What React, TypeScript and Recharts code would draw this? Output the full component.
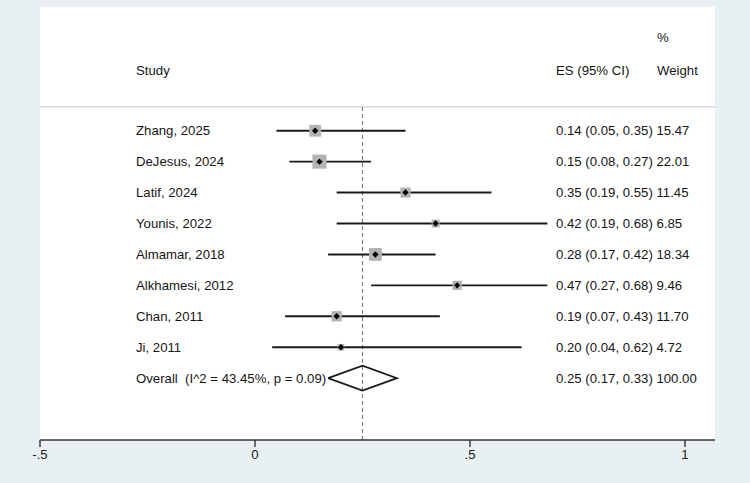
import React from "react";
import {
  ScatterChart,
  Scatter,
  XAxis,
  YAxis,
  ErrorBar,
  ReferenceLine,
  ReferenceArea,
} from "recharts";

// ---- data ----
const studies = [
  "Zhang, 2025",
  "DeJesus, 2024",
  "Latif, 2024",
  "Younis, 2022",
  "Almamar, 2018",
  "Alkhamesi, 2012",
  "Chan, 2011",
  "Ji, 2011",
];
const esValues = [0.14, 0.15, 0.35, 0.42, 0.28, 0.47, 0.19, 0.2];
const ciLower = [0.05, 0.08, 0.19, 0.19, 0.17, 0.27, 0.07, 0.04];
const ciUpper = [0.35, 0.27, 0.55, 0.68, 0.42, 0.68, 0.43, 0.62];
const weights = [15.47, 22.01, 11.45, 6.85, 18.34, 9.46, 11.7, 4.72];

const overallEs = 0.25;
const overallLower = 0.17;
const overallUpper = 0.33;
const overallWeight = 100.0;
const overallLabel = "Overall  (I^2 = 43.45%, p = 0.09)";

const xTicks = [-0.5, 0, 0.5, 1];
const xTickLabels = ["-.5", "0", ".5", "1"];

// ---- layout constants ----
const W = 750;
const H = 483;
const X_MIN = -0.5;
const X_MAX = 1.0698;
const Y_MAX = 14;
const FIRST_ROW = 4;
const HEADER_ROW = 2.04;
const PCT_ROW = 1.0;
const SEP_ROW = 3.23;
const LABEL_X = 136;
const ES_X = 556;
const WEIGHT_X = 657;
const FONT = "'Liberation Sans', Arial, Helvetica, sans-serif";
const TEXT_COLOR = "#151515";
const BG = "#e8f0f2";

const fmt = (v: number) => v.toFixed(2);

const studyData = studies.map((s, i) => ({
  x: esValues[i],
  y: FIRST_ROW + i,
  err: [esValues[i] - ciLower[i], ciUpper[i] - esValues[i]],
  w: weights[i],
  label: s,
  text: `${fmt(esValues[i])} (${fmt(ciLower[i])}, ${fmt(ciUpper[i])}) ${fmt(weights[i])}`,
}));

const overallRow = FIRST_ROW + studies.length;
const DIAMOND_HALF = 0.4;
const diamondData = [
  { x: overallLower, y: overallRow },
  { x: overallEs, y: overallRow - DIAMOND_HALF },
  { x: overallUpper, y: overallRow },
  { x: overallEs, y: overallRow + DIAMOND_HALF },
  { x: overallLower, y: overallRow },
];
const overallData = [
  {
    x: overallEs,
    y: overallRow,
    label: overallLabel,
    text: `${fmt(overallEs)} (${fmt(overallLower)}, ${fmt(overallUpper)}) ${fmt(overallWeight)}`,
  },
];
const headerData = [{ x: 0, y: HEADER_ROW }];
const pctData = [{ x: 0, y: PCT_ROW }];

const textProps = {
  fontFamily: FONT,
  fontSize: 13.2,
  fill: TEXT_COLOR,
  dominantBaseline: "central" as const,
};

const StudyShape = (props: any) => {
  const { cx, cy, payload } = props;
  const side = 3 * Math.sqrt(payload.w);
  const d = 3.2;
  return (
    <g>
      <rect x={cx - side / 2} y={cy - side / 2} width={side} height={side} fill="#b3b3b3" />
      <polygon
        points={`${cx - d},${cy} ${cx},${cy - d} ${cx + d},${cy} ${cx},${cy + d}`}
        fill="#000"
      />
      <text x={LABEL_X} y={cy} {...textProps}>
        {payload.label}
      </text>
      <text x={ES_X} y={cy} {...textProps}>
        {payload.text}
      </text>
    </g>
  );
};

const OverallText = (props: any) => {
  const { cy, payload } = props;
  return (
    <g>
      <text x={LABEL_X} y={cy} {...textProps} style={{ whiteSpace: "pre" }}>
        {payload.label}
      </text>
      <text x={ES_X} y={cy} {...textProps}>
        {payload.text}
      </text>
    </g>
  );
};

const HeaderShape = (props: any) => {
  const { cy } = props;
  return (
    <g>
      <text x={LABEL_X} y={cy} {...textProps}>Study</text>
      <text x={ES_X} y={cy} {...textProps}>ES (95% CI)</text>
      <text x={WEIGHT_X} y={cy} {...textProps}>Weight</text>
    </g>
  );
};

const PctShape = (props: any) => {
  const { cy } = props;
  return (
    <text x={WEIGHT_X} y={cy} {...textProps}>%</text>
  );
};

const Empty = () => <g />;

export default function App() {
  return (
    <div style={{ position: "absolute", left: 0, top: 0, width: W, height: H, background: BG }}>
      <ScatterChart
        width={W}
        height={H}
        margin={{ top: 7, right: 35, bottom: 13, left: 40 }}
      >
        <XAxis
          type="number"
          dataKey="x"
          domain={[X_MIN, X_MAX]}
          allowDataOverflow
          ticks={xTicks}
          tickFormatter={(v: number) => xTickLabels[xTicks.indexOf(v)] ?? String(v)}
          tickSize={7}
          tickMargin={3}
          height={30}
          stroke="#333"
          strokeWidth={1.4}
          tick={{ fill: "#222", fontSize: 13.2, fontFamily: FONT }}
        />
        <YAxis type="number" dataKey="y" domain={[0, Y_MAX]} reversed hide allowDataOverflow />
        <ReferenceArea
          x1={X_MIN}
          x2={X_MAX}
          y1={0}
          y2={Y_MAX}
          fill="#ffffff"
          fillOpacity={1}
          stroke="none"
        />
        <ReferenceLine y={SEP_ROW} stroke="#cfcfcf" strokeWidth={1.4} />
        <ReferenceLine
          segment={[
            { x: overallEs, y: SEP_ROW },
            { x: overallEs, y: Y_MAX },
          ]}
          stroke="#777"
          strokeDasharray="4 3"
          strokeWidth={1.1}
        />
        <Scatter data={headerData} shape={HeaderShape} isAnimationActive={false} />
        <Scatter data={pctData} shape={PctShape} isAnimationActive={false} />
        <Scatter data={studyData} shape={StudyShape} isAnimationActive={false}>
          <ErrorBar
            dataKey="err"
            direction="x"
            width={0}
            stroke="#1a1a1a"
            strokeWidth={1.9}
            isAnimationActive={false}
          />
        </Scatter>
        <Scatter
          data={diamondData}
          shape={Empty}
          line={{ stroke: "#1a1a1a", strokeWidth: 1.8 }}
          lineType="joint"
          isAnimationActive={false}
        />
        <Scatter data={overallData} shape={OverallText} isAnimationActive={false} />
      </ScatterChart>
    </div>
  );
}
